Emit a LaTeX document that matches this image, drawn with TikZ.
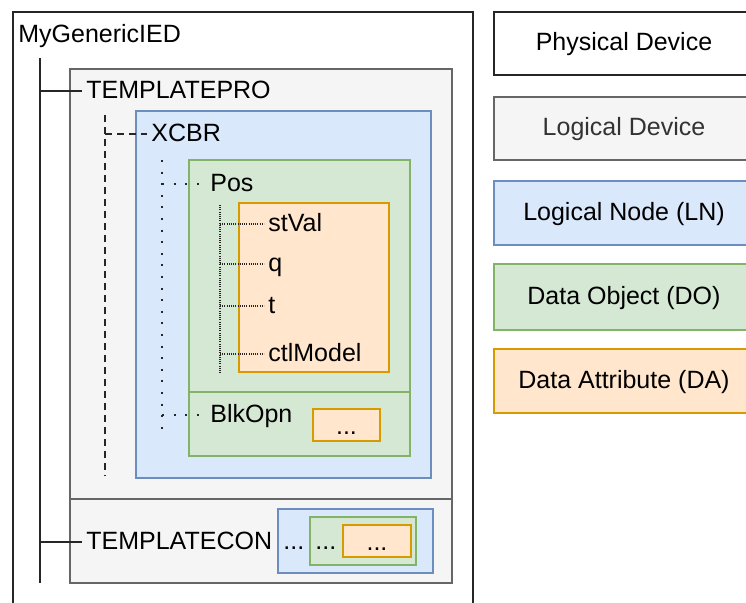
\documentclass[tikz,border=0pt]{standalone}
\usepackage{fontspec}
\setmainfont{Liberation Sans}
\usetikzlibrary{fit,positioning}

\definecolor{ldfill}{HTML}{F5F5F5}
\definecolor{lddraw}{HTML}{666666}
\definecolor{ldtext}{HTML}{333333}
\definecolor{lnfill}{HTML}{DAE8FC}
\definecolor{lndraw}{HTML}{6C8EBF}
\definecolor{dofill}{HTML}{D5E8D4}
\definecolor{dodraw}{HTML}{82B366}
\definecolor{dafill}{HTML}{FFE6CC}
\definecolor{dadraw}{HTML}{D79B00}

\tikzset{
  box/.style={rectangle, inner sep=0pt, line width=0.8pt},
  physical/.style={box, draw=black!85, fill=white},
  logical/.style={box, draw=lddraw, fill=ldfill},
  lnbox/.style={box, draw=lndraw, fill=lnfill},
  dobox/.style={box, draw=dodraw, fill=dofill},
  dabox/.style={box, draw=dadraw, fill=dafill},
  lbl/.style={anchor=west, inner xsep=2pt, inner ysep=0pt, text height=0.72em, text depth=0pt},
  boxtext/.style={inner sep=0pt, text height=0.72em, text depth=0pt},
  solidtree/.style={line width=1pt, draw=black!85},
  dashtree/.style={line width=1.1pt, draw=black!85, dash pattern=on 3.5pt off 2.5pt},
  dottree/.style={line width=1.1pt, draw=black!85, dash pattern=on 1pt off 4.8pt},
  finetree/.style={line width=0.8pt, draw=black!85, dash pattern=on 0.5pt off 0.6pt},
}

\begin{document}
\begin{tikzpicture}[x=0.5pt, y=-0.5pt, font=\fontsize{12.5}{15}\selectfont]
    \useasboundingbox (0,0) rectangle (746,602);
    \clip (0,0) rectangle (746,602);

    % Define boxes
    \node[physical, fit={(13,12) (473,640)}]		(ied)		{};
    \node[logical, fit={(70,69) (452,499)}]		(pro)		{};
    \node[logical, fit={(70,499) (452,583)}]		(con)		{};
    \node[lnbox, fit={(136,111) (431,478)}]		(xcbr)		{};
    \node[dobox, fit={(189,160) (410,392)}]		(pos)		{};
    \node[dobox, fit={(189,392) (410,456)}]		(blk)		{};
    \node[dabox, fit={(239,203) (389,372)}]		(posda)		{};
    \node[dabox, fit={(313,409) (380,441)}]		(blkda)		{};
    \node[lnbox, fit={(278,509) (433,573)}]		(conln)		{};
    \node[dobox, fit={(310,517) (416,565)}]		(condo)		{};
    \node[dabox, fit={(343,525) (411,557)}]		(conda)		{};

    % Legend
    \node[physical, fit={(494,12) (754,75)}]		(legpd)		{};
    \node[logical, fit={(494,97) (754,160)}]		(legld)		{};
    \node[lnbox, fit={(494,181) (754,245)}]		(legln)		{};
    \node[dobox, fit={(494,264) (754,330)}]		(legdo)		{};
    \node[dabox, fit={(494,349) (754,413)}]		(legda)		{};
    \node[boxtext]		(legpdtext)		at (legpd.center)		{Physical Device};
    \node[boxtext, text=ldtext]		(legldtext)		at (legld.center)		{Logical Device};
    \node[boxtext]		(leglntext)		at (legln.center)		{Logical Node (LN)};
    \node[boxtext]		(legdotext)		at (legdo.center)		{Data Object (DO)};
    \node[boxtext]		(legdatext)		at (legda.center)		{Data Attribute (DA)};

    % Define labels
    \node[lbl]		(iedname)		at (14,35)		{MyGenericIED};
    \node[lbl]		(proname)		at (82,91)		{TEMPLATEPRO};
    \node[lbl]		(conname)		at (82,542)		{TEMPLATECON};
    \node[lbl]		(condots)		at (279,542)		{...};
    \node[lbl]		(condodots)		at (311,542)		{...};
    \node[boxtext]		(condadots)		at ([yshift=-1pt]conda.center)		{...};
    \node[boxtext]		(blkdadots)		at ([yshift=-1pt]blkda.center)		{...};
    \node[lbl]		(xcbrname)		at (147,134)		{XCBR};
    \node[lbl]		(posname)		at (206,184)		{Pos};
    \node[lbl]		(blkname)		at (206,415)		{BlkOpn};
    \node[lbl]		(stval)		at (264,224)		{stVal};
    \node[lbl]		(q)		at (264,264)		{q};
    \node[lbl]		(t)		at (264,306)		{t};
    \node[lbl]		(ctlmodel)		at (264,354)		{ctlModel};

    % Tree coordinates
    \coordinate (iedtop) at (40,58);
    \coordinate (iedbot) at (40,583);
    \coordinate (protop) at (105,115);
    \coordinate (probot) at (105,476);
    \coordinate (xcbrtop) at (162,160);
    \coordinate (xcbrbot) at (162,436);
    \coordinate (postop) at (220,205);
    \coordinate (posbot) at (220,373);

    % Connect nodes
    \draw[solidtree] (iedtop) -- (iedbot);
    \draw[solidtree] (iedtop |- proname.west) -- (proname.west);
    \draw[solidtree] (iedtop |- conname.west) -- (conname.west);
    \draw[dashtree] (protop) -- (probot);
    \draw[dashtree] (protop |- xcbrname.west) -- (xcbrname.west);
    \draw[dottree] (xcbrtop) -- (xcbrbot);
    \draw[dottree] (xcbrtop |- posname.west) -- (posname.west);
    \draw[dottree] (xcbrtop |- blkname.west) -- (blkname.west);
    \draw[finetree] (postop) -- (posbot);
    \foreach \leaf in {stval, q, t, ctlmodel}
        \draw[finetree] (postop |- \leaf.west) -- (\leaf.west);
\end{tikzpicture}
\end{document}
